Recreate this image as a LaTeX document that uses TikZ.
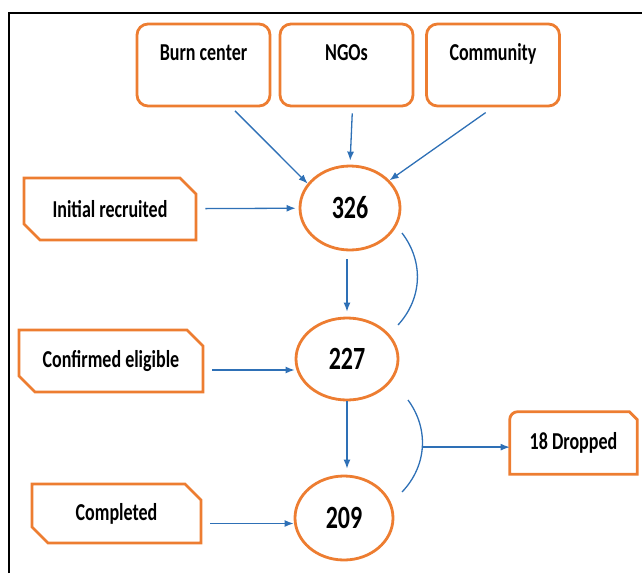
\documentclass[tikz,border=0pt]{standalone}
\usepackage{fontspec}
\setmainfont{Carlito}
\usepackage{graphicx}
\usetikzlibrary{arrows.meta, shapes.geometric, shapes.misc}

\definecolor{boxorange}{RGB}{237,125,49}
\definecolor{flowblue}{RGB}{46,112,182}

% taller letters, as in the figure
\newcommand{\tall}[1]{\scalebox{1}[1.35]{#1}}

\begin{document}
\begin{tikzpicture}[
            x = 1pt, y = -1pt, % pixel units, y going down
            > = {Latex[length=9pt,width=7pt]}, % arrow head style
            semithick % line style
        ]

        \tikzstyle{source}=[
            draw = boxorange,
            line width = 2.8pt,
            rounded corners = 11pt,
            fill = white,
            minimum width = 133pt,
            minimum height = 82pt,
            text height = 14pt,
            text depth = 24pt,
            font = \bfseries\fontsize{18}{20}\selectfont
        ]
        \tikzstyle{stage}=[
            chamfered rectangle,
            chamfered rectangle corners = {north east, south west},
            chamfered rectangle xsep = 8pt,
            chamfered rectangle ysep = 8pt,
            draw = boxorange,
            line width = 2.8pt,
            fill = white,
            minimum width = 172pt,
            minimum height = 62pt,
            font = \bfseries\fontsize{18}{20}\selectfont
        ]
        \tikzstyle{dropbox}=[
            minimum width = 127pt,
            minimum height = 62pt,
            font = \bfseries\fontsize{18}{20}\selectfont
        ]
        \tikzstyle{count}=[
            ellipse,
            draw = boxorange,
            line width = 2.8pt,
            fill = white,
            minimum width = 100pt,
            minimum height = 84pt,
            font = \bfseries\fontsize{24}{26}\selectfont
        ]
        \tikzstyle{flow}=[->, draw = flowblue, line width = 1.3pt]
        \tikzstyle{brace}=[draw = flowblue, line width = 1.3pt]

        \useasboundingbox (0,0) rectangle (642,573);

        % frame
        \draw[line width = 2pt] (9,573) -- (9,13) -- (642,13);

        % sources
        \node[source] (burn) at (203.5,65) {\tall{Burn center}};
        \node[source] (ngo) at (346.5,65) {\tall{NGOs}};
        \node[source] (comm) at (493,65) {\tall{Community}};

        % counts
        \node[count] (n326) at (350,208) {\tall{326}};
        \node[count, minimum width = 102pt, minimum height = 82pt] (n227) at (347,359) {\tall{227}};
        \node[count, minimum width = 98pt] (n209) at (344,518) {\tall{209}};

        % stages
        \node[stage] (init) at (110,209) {\tall{Initial recruited}};
        \node[stage, minimum width = 184pt] (elig) at (111,361) {\tall{Confirmed eligible}};
        \node[stage, minimum width = 169pt, minimum height = 59pt] (done) at (116.5,513.5) {\tall{Completed}};
        \node[dropbox] (drop) at (573.5,443) {\tall{18 Dropped}};
        \draw[draw = boxorange, line width = 2.8pt]
            (drop.south west) [rounded corners = 8pt] -- (drop.north west)
            [sharp corners] -- ([xshift=-8pt]drop.north east)
            -- ([yshift=-8pt]drop.north east) -- (drop.south east) -- cycle;

        % arrows in
        \draw[flow, shorten <= 5pt] ([xshift=28pt]burn.south) -- (n326.150);
        \draw[flow, shorten <= 6pt, shorten >= 4pt] ([xshift=6pt]ngo.south) -- (n326.north);
        \draw[flow, shorten <= 9pt] (comm.south) -- (n326.35);

        \draw[flow, shorten <= 8pt, shorten >= 3pt] (init) -- (n326);
        \draw[flow, shorten <= 8pt] ([yshift=-9pt]elig.east) -- ([yshift=-9pt]elig.east -| n227.west);
        \draw[flow, shorten <= 8pt] ([yshift=-10pt]done.east) -- ([yshift=-10pt]done.east -| n209.west);

        \draw[flow, shorten <= 8pt, shorten >= 5pt] (n326.south -| n227.north) -- (n227.north);
        \draw[flow, shorten >= 6pt] (n227.south) -- (n227.south |- n209.north);

        % brackets
        \coordinate (b1s) at (402,233);
        \coordinate (b1e) at (398,325);
        \coordinate (b2s) at (408,400);
        \coordinate (b2e) at (402,492);
        \draw[brace] (b1s) to[bend left = 40] (b1e);
        \draw[brace] (b2s) to[bend left = 40] coordinate[pos = 0.5] (b2m) (b2e);
        \draw[flow] (b2m) -- (b2m -| drop.west);

  \end{tikzpicture}
\end{document}
